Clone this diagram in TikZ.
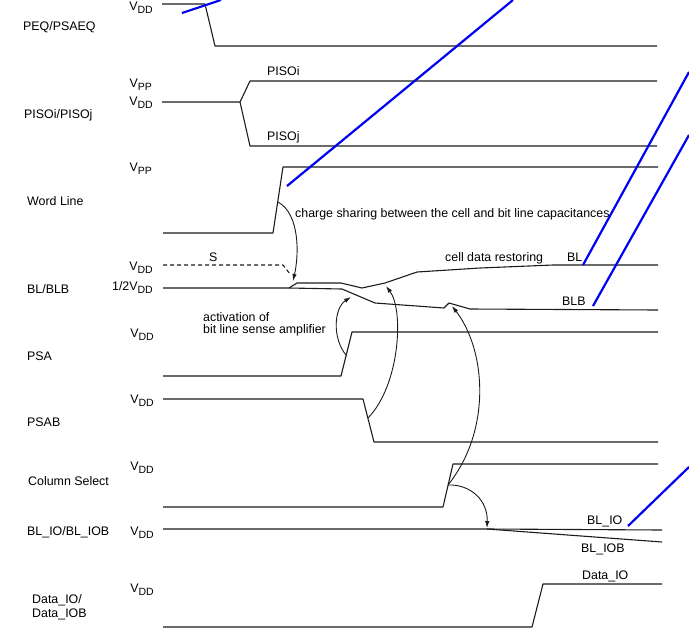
\documentclass[tikz,border=0pt]{standalone}
\usepackage{fontspec}
\setmainfont{Liberation Sans}
\usepackage{tikz}
\usetikzlibrary{arrows.meta}
\definecolor{wavec}{HTML}{1C1C1C}
\definecolor{penblue}{HTML}{0000F2}
\newcommand{\vdd}{V\raisebox{-3.5pt}{\fontsize{10.5}{11}\selectfont DD}}
\newcommand{\vpp}{V\raisebox{-3.5pt}{\fontsize{10.5}{11}\selectfont PP}}

\begin{document}
\begin{tikzpicture}[x=1pt, y=-1pt, font=\fontsize{12.4}{14}\selectfont,
    wave/.style={wavec, line width=1.1pt, line join=round},
    sense/.style={wavec, line width=0.9pt, -{Latex[length=7pt,width=4.5pt]}},
    pen/.style={penblue, line width=2.2pt},
    txt/.style={anchor=base west, inner sep=0pt},
    lvl/.style={anchor=base east, inner sep=0pt}]
  \useasboundingbox (0,0) rectangle (689,633);
  \node[txt] (peq) at (23,30) {PEQ/PSAEQ};
  \node[txt] (piso) at (24,118) {PISOi/PISOj};
  \node[txt] (wl) at (27,205) {Word Line};
  \node[txt] (blblb) at (27,293) {BL/BLB};
  \node[txt] (psa) at (27,360) {PSA};
  \node[txt] (psab) at (27,426) {PSAB};
  \node[txt] (csl) at (28,485) {Column Select};
  \node[txt] (blio) at (27,535) {BL\_IO/BL\_IOB};
  \node[txt, align=left, anchor=north west] (dataio) at (32,594) {Data\_IO/\\Data\_IOB};
  \node[lvl] (peqvdd) at (153,10) {\vdd};
  \node[lvl] (pisovpp) at (152,87) {\vpp};
  \node[lvl] (pisovdd) at (153,105) {\vdd};
  \node[lvl] (wlvpp) at (152,171) {\vpp};
  \node[lvl] (blvdd) at (153,270) {\vdd};
  \node[lvl] (blhalf) at (153,290) {1/2\vdd};
  \node[lvl] (psavdd) at (154,337) {\vdd};
  \node[lvl] (psabvdd) at (154,403) {\vdd};
  \node[lvl] (cslvdd) at (154,470) {\vdd};
  \node[lvl] (bliovdd) at (154,535) {\vdd};
  \node[lvl] (datavdd) at (154,592) {\vdd};
  \node[txt] (pisoi) at (267,75) {PISOi};
  \node[txt] (pisoj) at (267,140) {PISOj};
  \node[txt] (share) at (295,217) {charge sharing between the cell and bit line capacitances};
  \node[txt] (cells) at (209,261) {S};
  \node[txt] (restore) at (445,261) {cell data restoring};
  \node[txt] (bl) at (567,261) {BL};
  \node[txt] (blb) at (562,305) {BLB};
  \node[txt, align=left, anchor=north west] (activ) at (203,312) {activation of\\[-2pt]bit line sense amplifier};
  \node[txt] (bliotop) at (587,524) {BL\_IO};
  \node[txt] (bliob) at (581,552) {BL\_IOB};
  \node[txt] (dataiotop) at (582,579) {Data\_IO};
  \draw[wave] (162,4) -- (205,4) -- (215,46) -- (657,46);
  \draw[wave] (162,102) -- (240,102) -- (250,81) -- (657,81);
  \draw[wave] (240,102) -- (250,146) -- (657,146);
  \draw[wave] (163,233) -- (273,233) -- (283,167) -- (658,167);
  \draw[wave, dashed, dash pattern=on 4pt off 3pt] (163,265) -- (283,265) -- (290,274);
  \draw[wave] (163,288) -- (289,288) -- (297,283) -- (341,283) -- (362,288) -- (385,283)
    -- (417,272) -- (480,268) -- (553,265) -- (658,265);
  \draw[wave] (289,288) -- (342,289) -- (375,303) -- (444,308) -- (449,303) -- (470,309) -- (658,310);
  \draw[wave] (163,376) -- (341,376) -- (352,332) -- (658,332);
  \draw[wave] (163,399) -- (363,399) -- (374,442) -- (658,442);
  \draw[wave] (163,507) -- (443,507) -- (453,464) -- (658,464);
  \draw[wave] (163,529) -- (487,529) -- (662,530);
  \draw[wave] (487,529) -- (662,542);
  \draw[wave] (163,627) -- (532,627) -- (543,584) -- (662,584);
  \coordinate (wlrise) at (278,202);
  \coordinate (blsplit) at (293,281);
  \coordinate (psarise) at (346,355);
  \coordinate (blbdrop) at (351,297);
  \coordinate (psabfall) at (368,418);
  \coordinate (bldip) at (386,286);
  \coordinate (cslrise) at (448,485);
  \coordinate (blbbump) at (452,306);
  \coordinate (iosplit) at (487,528);
  \draw[sense] (wlrise) .. controls (300,214) and (299,255) .. (blsplit);
  \draw[sense] (psarise) .. controls (332,338) and (334,308) .. (blbdrop);
  \draw[sense] (psabfall) .. controls (400,385) and (404,310) .. (bldip);
  \draw[sense] (cslrise) .. controls (492,430) and (486,350) .. (blbbump);
  \draw[sense] (cslrise) .. controls (470,484) and (488,500) .. (iosplit);
  \draw[pen] (182,13) -- (221,0);
  \draw[pen] (287,186) -- (513,0);
  \draw[pen] (583,265) -- (689,72);
  \draw[pen] (593,306) -- (689,135);
  \draw[pen] (628,526) -- (689,467);
\end{tikzpicture}
\end{document}
